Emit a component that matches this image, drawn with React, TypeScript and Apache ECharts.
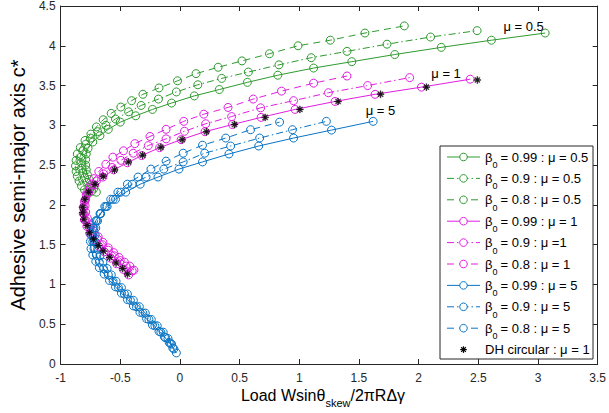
import React, { useEffect, useRef } from "react";
import * as echarts from "echarts";

const xTicks = { min: -1, max: 3.5, interval: 0.5 };
const yTicks = { min: 0, max: 4.5, interval: 0.5 };

const seriesNames = [
  "β0 = 0.99 : μ = 0.5", "β0 = 0.9 : μ = 0.5", "β0 = 0.8 : μ = 0.5",
  "β0 = 0.99 : μ = 1", "β0 = 0.9 : μ =1", "β0 = 0.8 : μ = 1",
  "β0 = 0.99 : μ = 5", "β0 = 0.9 : μ = 5", "β0 = 0.8 : μ = 5",
];
const legendRest = [
  " = 0.99 : μ = 0.5", " = 0.9 : μ = 0.5", " = 0.8 : μ = 0.5",
  " = 0.99 : μ = 1", " = 0.9 : μ =1", " = 0.8 : μ = 1",
  " = 0.99 : μ = 5", " = 0.9 : μ = 5", " = 0.8 : μ = 5",
];
const dhName = "DH circular : μ = 1";

const green99 = [[-0.70,2.16],[-0.72,2.21],[-0.74,2.26],[-0.76,2.32],[-0.775,2.38],[-0.785,2.44],[-0.79,2.50],[-0.79,2.57],[-0.785,2.64],[-0.77,2.71],[-0.73,2.79],[-0.67,2.87],[-0.60,2.95],[-0.50,3.04],[-0.37,3.12],[-0.23,3.20],[-0.07,3.28],[0.12,3.37],[0.33,3.45],[0.565,3.54],[0.82,3.63],[1.12,3.72],[1.44,3.80],[1.80,3.89],[2.19,3.98],[2.61,4.07],[3.06,4.16]];
const green90 = [[-0.74,2.17],[-0.76,2.22],[-0.78,2.28],[-0.80,2.34],[-0.815,2.40],[-0.825,2.46],[-0.83,2.53],[-0.83,2.60],[-0.815,2.68],[-0.79,2.76],[-0.75,2.84],[-0.69,2.92],[-0.62,3.00],[-0.54,3.08],[-0.43,3.17],[-0.325,3.25],[-0.18,3.33],[-0.03,3.42],[0.15,3.51],[0.35,3.59],[0.573,3.67],[0.83,3.76],[1.10,3.85],[1.40,3.93],[1.735,4.02],[2.10,4.11],[2.49,4.19]];
const green80 = [[-0.77,2.14],[-0.80,2.19],[-0.825,2.24],[-0.845,2.30],[-0.86,2.36],[-0.87,2.42],[-0.875,2.49],[-0.87,2.56],[-0.86,2.64],[-0.835,2.72],[-0.795,2.81],[-0.746,2.89],[-0.70,2.98],[-0.643,3.07],[-0.576,3.15],[-0.495,3.23],[-0.405,3.31],[-0.31,3.39],[-0.175,3.47],[-0.02,3.56],[0.135,3.65],[0.32,3.73],[0.52,3.81],[0.75,3.90],[0.99,4.00],[1.26,4.07],[1.55,4.16],[1.88,4.25]];

const magenta99 = [[-0.43,1.12],[-0.475,1.19],[-0.53,1.26],[-0.58,1.33],[-0.635,1.41],[-0.68,1.48],[-0.72,1.56],[-0.755,1.64],[-0.78,1.73],[-0.80,1.81],[-0.81,1.89],[-0.81,1.97],[-0.795,2.06],[-0.765,2.15],[-0.715,2.25],[-0.645,2.35],[-0.555,2.44],[-0.44,2.53],[-0.32,2.62],[-0.17,2.72],[0.01,2.82],[0.21,2.92],[0.44,3.01],[0.68,3.10],[0.965,3.20],[1.30,3.30],[1.635,3.39],[2.024,3.48],[2.432,3.58]];
const magenta90 = [[-0.40,1.17],[-0.45,1.23],[-0.50,1.30],[-0.55,1.36],[-0.60,1.43],[-0.65,1.50],[-0.69,1.57],[-0.73,1.65],[-0.76,1.72],[-0.785,1.80],[-0.80,1.88],[-0.805,1.96],[-0.80,2.04],[-0.785,2.12],[-0.75,2.21],[-0.70,2.30],[-0.64,2.39],[-0.568,2.47],[-0.495,2.56],[-0.392,2.65],[-0.265,2.745],[-0.116,2.83],[0.038,2.925],[0.216,3.02],[0.433,3.11],[0.676,3.22],[0.952,3.31],[1.244,3.41],[1.573,3.50],[1.925,3.60]];
const magenta80 = [[-0.385,1.18],[-0.42,1.23],[-0.465,1.28],[-0.51,1.34],[-0.555,1.40],[-0.60,1.46],[-0.645,1.53],[-0.685,1.60],[-0.72,1.67],[-0.75,1.75],[-0.775,1.83],[-0.79,1.91],[-0.795,1.99],[-0.79,2.07],[-0.78,2.15],[-0.755,2.24],[-0.72,2.33],[-0.68,2.42],[-0.621,2.51],[-0.562,2.60],[-0.473,2.68],[-0.378,2.77],[-0.251,2.86],[-0.116,2.95],[0.032,3.05],[0.20,3.14],[0.403,3.225],[0.614,3.33],[0.851,3.43],[1.12,3.53],[1.40,3.62]];

const blue99 = [[-0.03,0.14],[-0.06,0.20],[-0.09,0.27],[-0.13,0.34],[-0.175,0.41],[-0.23,0.49],[-0.28,0.57],[-0.335,0.65],[-0.39,0.73],[-0.44,0.81],[-0.49,0.89],[-0.54,0.97],[-0.59,1.05],[-0.635,1.13],[-0.675,1.21],[-0.705,1.29],[-0.73,1.37],[-0.745,1.45],[-0.75,1.54],[-0.745,1.62],[-0.73,1.71],[-0.705,1.80],[-0.665,1.89],[-0.61,1.98],[-0.54,2.07],[-0.454,2.16],[-0.333,2.26],[-0.184,2.35],[-0.008,2.45],[0.189,2.54],[0.411,2.64],[0.66,2.74],[0.952,2.84],[1.27,2.94],[1.619,3.05]];
const blue90 = [[-0.05,0.19],[-0.08,0.26],[-0.12,0.33],[-0.16,0.40],[-0.21,0.48],[-0.26,0.56],[-0.31,0.64],[-0.365,0.72],[-0.415,0.80],[-0.465,0.88],[-0.515,0.96],[-0.56,1.04],[-0.60,1.12],[-0.64,1.20],[-0.675,1.28],[-0.70,1.37],[-0.72,1.45],[-0.73,1.54],[-0.73,1.62],[-0.72,1.71],[-0.70,1.80],[-0.67,1.89],[-0.62,1.98],[-0.56,2.07],[-0.495,2.16],[-0.40,2.26],[-0.284,2.35],[-0.135,2.45],[0.027,2.54],[0.208,2.65],[0.425,2.74],[0.668,2.84],[0.943,2.945],[1.227,3.05]];
const blue80 = [[-0.07,0.25],[-0.10,0.32],[-0.14,0.40],[-0.19,0.48],[-0.24,0.56],[-0.29,0.64],[-0.34,0.72],[-0.39,0.80],[-0.44,0.88],[-0.49,0.96],[-0.535,1.04],[-0.575,1.12],[-0.61,1.20],[-0.645,1.28],[-0.67,1.36],[-0.69,1.44],[-0.705,1.53],[-0.71,1.62],[-0.705,1.71],[-0.69,1.80],[-0.665,1.89],[-0.63,1.98],[-0.58,2.07],[-0.52,2.16],[-0.44,2.26],[-0.351,2.35],[-0.243,2.45],[-0.116,2.55],[0.027,2.65],[0.189,2.75],[0.384,2.84],[0.592,2.945],[0.835,3.04]];

const dhCircular = [[-0.44,1.13],[-0.48,1.20],[-0.535,1.27],[-0.589,1.34],[-0.643,1.42],[-0.684,1.49],[-0.724,1.57],[-0.759,1.65],[-0.778,1.74],[-0.805,1.82],[-0.814,1.90],[-0.814,1.97],[-0.797,2.07],[-0.765,2.16],[-0.711,2.26],[-0.643,2.36],[-0.548,2.44],[-0.432,2.54],[-0.313,2.625],[-0.16,2.725],[0.019,2.82],[0.222,2.92],[0.457,3.01],[0.714,3.10],[1.005,3.20],[1.325,3.30],[1.681,3.39],[2.065,3.48],[2.492,3.57]];

const annotations = [
  { text: "μ = 0.5", at: [2.88, 4.24] },
  { text: "μ = 1", at: [2.23, 3.65] },
  { text: "μ = 5", at: [1.68, 3.19] },
];

const GREEN = "#2E9A2E";
const MAGENTA = "#E01EE0";
const BLUE = "#0A74C4";
const AXIS = "#262626";
const FONT = "'Liberation Sans', Arial, Helvetica, sans-serif";
const SOLID = "solid";
const DASHDOT = [7, 3, 1.5, 3];
const DASHED = [7, 5];

const seriesData = [green99, green90, green80, magenta99, magenta90, magenta80, blue99, blue90, blue80];
const seriesColors = [GREEN, GREEN, GREEN, MAGENTA, MAGENTA, MAGENTA, BLUE, BLUE, BLUE];
const seriesDash: any[] = [SOLID, DASHDOT, DASHED, SOLID, DASHDOT, DASHED, SOLID, DASHDOT, DASHED];

const ASTERISK =
  "path://M-0.7,-5L0.7,-5L0.7,5L-0.7,5Z M-5,-0.7L5,-0.7L5,0.7L-5,0.7Z " +
  "M3.99,3.0L3.0,3.99L-3.99,-3.0L-3.0,-3.99Z M3.99,-3.0L3.0,-3.99L-3.99,3.0L-3.0,3.99Z";

export default function App() {
  const ref = useRef<HTMLDivElement>(null);
  useEffect(() => {
    if (!ref.current) return;
    const chart = echarts.init(ref.current, undefined, { renderer: "svg" });
    const axisCommon = {
      type: "value" as const,
      splitLine: { show: false },
      axisLine: { show: true, onZero: false, lineStyle: { color: AXIS, width: 1 } },
      axisTick: { show: true, inside: true, length: 5, lineStyle: { color: AXIS } },
    };
    const series: any[] = seriesData.map((d, i) => ({
      name: seriesNames[i],
      type: "line",
      data: d,
      symbol: "circle",
      symbolSize: 8,
      showAllSymbol: true,
      itemStyle: { color: "rgba(0,0,0,0)", borderColor: seriesColors[i], borderWidth: 1 },
      lineStyle: { color: seriesColors[i], width: 1, type: seriesDash[i] },
      emphasis: { disabled: true },
      z: 2 + i,
    }));
    series.push({
      name: dhName,
      type: "scatter",
      data: dhCircular,
      symbol: ASTERISK,
      symbolSize: 7,
      itemStyle: { color: "#000", borderColor: "#000", borderWidth: 0.4 },
      emphasis: { disabled: true },
      z: 20,
    });
    chart.setOption({
      animation: false,
      grid: { left: 46, right: 8, top: 4, bottom: 49 },
      xAxis: [
        {
          ...axisCommon, position: "bottom", ...xTicks,
          axisLabel: { color: AXIS, fontSize: 12, fontFamily: FONT, margin: 8 },
        },
        { ...axisCommon, position: "top", ...xTicks, axisLabel: { show: false } },
      ],
      yAxis: [
        {
          ...axisCommon, position: "left", ...yTicks,
          axisLabel: { color: AXIS, fontSize: 12, fontFamily: FONT, margin: 5 },
          name: "Adhesive semi-major axis c*",
          nameLocation: "middle",
          nameRotate: 90,
          nameGap: 25,
          nameTextStyle: { color: "#000", fontSize: 20, fontFamily: FONT },
        },
        { ...axisCommon, position: "right", ...yTicks, axisLabel: { show: false } },
      ],
      series,
    });

    const elements: any[] = [];
    annotations.forEach((a) => {
      const p = chart.convertToPixel({ xAxisIndex: 0, yAxisIndex: 0 }, a.at);
      elements.push({
        type: "text", x: p[0], y: p[1], z: 50,
        style: { text: a.text, fill: "#000", fontSize: 13, fontFamily: FONT, align: "center", verticalAlign: "middle" },
      });
    });
    // x-axis title
    elements.push({
      type: "text", x: 323, y: 395, z: 50,
      style: {
        text: "{a|Load Wsinθ}{b|skew}{a|/2πRΔγ}",
        align: "center", verticalAlign: "middle", fill: "#000",
        rich: {
          a: { fontSize: 16, fontFamily: FONT, lineHeight: 26, fill: "#000" },
          b: { fontSize: 11, fontFamily: FONT, lineHeight: 11, verticalAlign: "bottom", fill: "#000" },
        },
      },
    });
    // legend
    const lx = 440, ly = 146, lw = 153, lh = 213;
    elements.push({
      type: "rect", z: 90, shape: { x: lx, y: ly, width: lw, height: lh },
      style: { fill: "#fff", stroke: AXIS, lineWidth: 1 },
    });
    for (let i = 0; i < 10; i++) {
      const y = 157 + i * 21.4;
      if (i < 9) {
        const dash = seriesDash[i] === SOLID ? null : seriesDash[i];
        elements.push({
          type: "line", z: 95, shape: { x1: 447, y1: y, x2: 480, y2: y },
          style: { stroke: seriesColors[i], lineWidth: 1, lineDash: dash },
        });
        elements.push({
          type: "circle", z: 96, shape: { cx: 463.5, cy: y, r: 3.8 },
          style: { fill: "#fff", stroke: seriesColors[i], lineWidth: 1 },
        });
        elements.push({
          type: "text", z: 96, x: 485, y,
          style: { text: "β", fill: "#000", fontSize: 13, fontFamily: FONT, verticalAlign: "middle" },
        });
        elements.push({
          type: "text", z: 96, x: 492.5, y: y + 8,
          style: { text: "0", fill: "#000", fontSize: 9, fontFamily: FONT, verticalAlign: "middle" },
        });
        elements.push({
          type: "text", z: 96, x: 497, y,
          style: { text: legendRest[i], fill: "#000", fontSize: 13, fontFamily: FONT, verticalAlign: "middle" },
        });
      } else {
        const cx = 463.5, r = 3.3;
        const arms = [[0, r], [r, 0], [r * 0.71, r * 0.71], [r * 0.71, -r * 0.71]];
        arms.forEach(([dx, dy]) => {
          elements.push({
            type: "line", z: 96, shape: { x1: cx - dx, y1: y - dy, x2: cx + dx, y2: y + dy },
            style: { stroke: "#000", lineWidth: 1.2 },
          });
        });
        elements.push({
          type: "text", z: 96, x: 485, y,
          style: { text: dhName, fill: "#000", fontSize: 13, fontFamily: FONT, verticalAlign: "middle" },
        });
      }
    }
    chart.setOption({ graphic: { elements } });
    return () => chart.dispose();
  }, []);
  return (
    <div
      ref={ref}
      style={{ position: "fixed", left: 0, top: 0, width: 609, height: 413, background: "#fff" }}
    />
  );
}
